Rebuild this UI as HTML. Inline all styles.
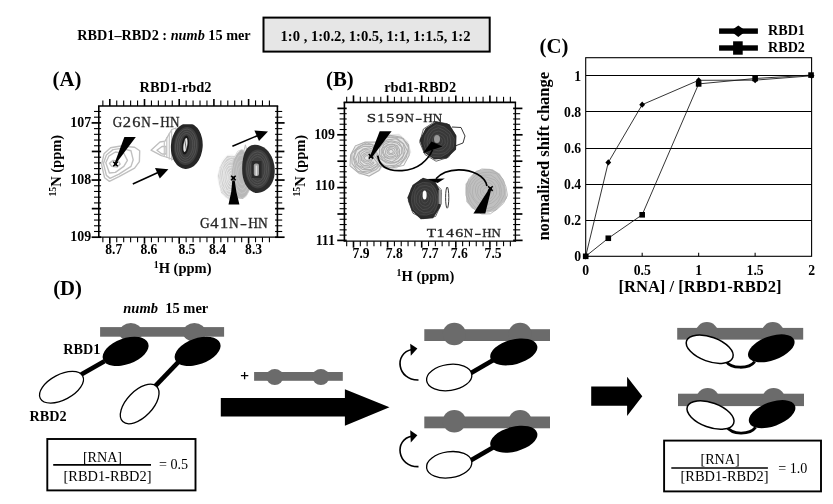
<!DOCTYPE html>
<html><head><meta charset="utf-8"><title>Figure</title>
<style>
html,body{margin:0;padding:0;background:#fff;}
body{width:833px;height:504px;overflow:hidden;font-family:"Liberation Serif",serif;}
svg{display:block;position:absolute;left:0;top:0;filter:grayscale(1);}
</style></head><body>
<svg width="833" height="504" viewBox="0 0 833 504">
<rect x="0" y="0" width="833" height="504" fill="#fff"/>
<!-- header -->
<text x="77.2" y="39.6" font-size="14.3" font-weight="bold" text-anchor="start" font-family="Liberation Serif, serif" fill="#000" textLength="173.5" lengthAdjust="spacingAndGlyphs">RBD1&#8211;RBD2 : <tspan font-style="italic">numb</tspan> 15 mer</text>
<rect x="263.5" y="17.6" width="226.2" height="34" fill="#e6e6e6" stroke="#000" stroke-width="2"/>
<text x="280.5" y="40.9" font-size="14.5" font-weight="bold" text-anchor="start" font-family="Liberation Serif, serif" fill="#000" textLength="190" lengthAdjust="spacingAndGlyphs">1:0 , 1:0.2, 1:0.5, 1:1, 1:1.5, 1:2</text>
<!-- panel A -->
<text x="52.6" y="85.5" font-size="20.75" font-weight="bold" text-anchor="start" font-family="Liberation Serif, serif" fill="#000" >(A)</text>
<text x="175.6" y="92.1" font-size="14.4" font-weight="bold" text-anchor="middle" font-family="Liberation Serif, serif" fill="#000" >RBD1-rbd2</text>
<rect x="98.8" y="106" width="178.6" height="131.2" fill="#fff" stroke="none"/>
<line x1="98" y1="106" x2="278.2" y2="106" stroke="#000" stroke-width="1.6" />
<line x1="98" y1="237.2" x2="278.2" y2="237.2" stroke="#000" stroke-width="1.3" />
<line x1="98.8" y1="106" x2="98.8" y2="237.2" stroke="#000" stroke-width="1.6" />
<line x1="277.4" y1="106" x2="277.4" y2="237.2" stroke="#000" stroke-width="1.6" />
<line x1="102.86" y1="106" x2="102.86" y2="100.4" stroke="#000" stroke-width="1.1" />
<line x1="102.86" y1="237.2" x2="102.86" y2="242.2" stroke="#000" stroke-width="1.1" />
<line x1="109.8" y1="106" x2="109.8" y2="99" stroke="#000" stroke-width="1.6" />
<line x1="109.8" y1="237.2" x2="109.8" y2="243.7" stroke="#000" stroke-width="1.6" />
<line x1="116.74" y1="106" x2="116.74" y2="100.4" stroke="#000" stroke-width="1.1" />
<line x1="116.74" y1="237.2" x2="116.74" y2="242.2" stroke="#000" stroke-width="1.1" />
<line x1="123.68" y1="106" x2="123.68" y2="100.4" stroke="#000" stroke-width="1.1" />
<line x1="123.68" y1="237.2" x2="123.68" y2="242.2" stroke="#000" stroke-width="1.1" />
<line x1="130.62" y1="106" x2="130.62" y2="100.4" stroke="#000" stroke-width="1.1" />
<line x1="130.62" y1="237.2" x2="130.62" y2="242.2" stroke="#000" stroke-width="1.1" />
<line x1="137.56" y1="106" x2="137.56" y2="100.4" stroke="#000" stroke-width="1.1" />
<line x1="137.56" y1="237.2" x2="137.56" y2="242.2" stroke="#000" stroke-width="1.1" />
<line x1="144.5" y1="106" x2="144.5" y2="99" stroke="#000" stroke-width="1.6" />
<line x1="144.5" y1="237.2" x2="144.5" y2="243.7" stroke="#000" stroke-width="1.6" />
<line x1="151.44" y1="106" x2="151.44" y2="100.4" stroke="#000" stroke-width="1.1" />
<line x1="151.44" y1="237.2" x2="151.44" y2="242.2" stroke="#000" stroke-width="1.1" />
<line x1="158.38" y1="106" x2="158.38" y2="100.4" stroke="#000" stroke-width="1.1" />
<line x1="158.38" y1="237.2" x2="158.38" y2="242.2" stroke="#000" stroke-width="1.1" />
<line x1="165.32" y1="106" x2="165.32" y2="100.4" stroke="#000" stroke-width="1.1" />
<line x1="165.32" y1="237.2" x2="165.32" y2="242.2" stroke="#000" stroke-width="1.1" />
<line x1="172.26" y1="106" x2="172.26" y2="100.4" stroke="#000" stroke-width="1.1" />
<line x1="172.26" y1="237.2" x2="172.26" y2="242.2" stroke="#000" stroke-width="1.1" />
<line x1="179.2" y1="106" x2="179.2" y2="99" stroke="#000" stroke-width="1.6" />
<line x1="179.2" y1="237.2" x2="179.2" y2="243.7" stroke="#000" stroke-width="1.6" />
<line x1="186.14" y1="106" x2="186.14" y2="100.4" stroke="#000" stroke-width="1.1" />
<line x1="186.14" y1="237.2" x2="186.14" y2="242.2" stroke="#000" stroke-width="1.1" />
<line x1="193.08" y1="106" x2="193.08" y2="100.4" stroke="#000" stroke-width="1.1" />
<line x1="193.08" y1="237.2" x2="193.08" y2="242.2" stroke="#000" stroke-width="1.1" />
<line x1="200.02" y1="106" x2="200.02" y2="100.4" stroke="#000" stroke-width="1.1" />
<line x1="200.02" y1="237.2" x2="200.02" y2="242.2" stroke="#000" stroke-width="1.1" />
<line x1="206.96" y1="106" x2="206.96" y2="100.4" stroke="#000" stroke-width="1.1" />
<line x1="206.96" y1="237.2" x2="206.96" y2="242.2" stroke="#000" stroke-width="1.1" />
<line x1="213.9" y1="106" x2="213.9" y2="99" stroke="#000" stroke-width="1.6" />
<line x1="213.9" y1="237.2" x2="213.9" y2="243.7" stroke="#000" stroke-width="1.6" />
<line x1="220.84" y1="106" x2="220.84" y2="100.4" stroke="#000" stroke-width="1.1" />
<line x1="220.84" y1="237.2" x2="220.84" y2="242.2" stroke="#000" stroke-width="1.1" />
<line x1="227.78" y1="106" x2="227.78" y2="100.4" stroke="#000" stroke-width="1.1" />
<line x1="227.78" y1="237.2" x2="227.78" y2="242.2" stroke="#000" stroke-width="1.1" />
<line x1="234.72" y1="106" x2="234.72" y2="100.4" stroke="#000" stroke-width="1.1" />
<line x1="234.72" y1="237.2" x2="234.72" y2="242.2" stroke="#000" stroke-width="1.1" />
<line x1="241.66" y1="106" x2="241.66" y2="100.4" stroke="#000" stroke-width="1.1" />
<line x1="241.66" y1="237.2" x2="241.66" y2="242.2" stroke="#000" stroke-width="1.1" />
<line x1="248.6" y1="106" x2="248.6" y2="99" stroke="#000" stroke-width="1.6" />
<line x1="248.6" y1="237.2" x2="248.6" y2="243.7" stroke="#000" stroke-width="1.6" />
<line x1="255.54" y1="106" x2="255.54" y2="100.4" stroke="#000" stroke-width="1.1" />
<line x1="255.54" y1="237.2" x2="255.54" y2="242.2" stroke="#000" stroke-width="1.1" />
<line x1="262.48" y1="106" x2="262.48" y2="100.4" stroke="#000" stroke-width="1.1" />
<line x1="262.48" y1="237.2" x2="262.48" y2="242.2" stroke="#000" stroke-width="1.1" />
<line x1="269.42" y1="106" x2="269.42" y2="100.4" stroke="#000" stroke-width="1.1" />
<line x1="269.42" y1="237.2" x2="269.42" y2="242.2" stroke="#000" stroke-width="1.1" />
<line x1="101.1" y1="111.47" x2="94" y2="111.47" stroke="#000" stroke-width="1.1" />
<line x1="275.1" y1="111.47" x2="282.2" y2="111.47" stroke="#000" stroke-width="1.1" />
<line x1="101.1" y1="117.19" x2="94" y2="117.19" stroke="#000" stroke-width="1.1" />
<line x1="275.1" y1="117.19" x2="282.2" y2="117.19" stroke="#000" stroke-width="1.1" />
<line x1="101.1" y1="122.9" x2="91.6" y2="122.9" stroke="#000" stroke-width="1.7" />
<line x1="275.1" y1="122.9" x2="284.6" y2="122.9" stroke="#000" stroke-width="1.7" />
<line x1="101.1" y1="128.62" x2="94" y2="128.62" stroke="#000" stroke-width="1.1" />
<line x1="275.1" y1="128.62" x2="282.2" y2="128.62" stroke="#000" stroke-width="1.1" />
<line x1="101.1" y1="134.33" x2="94" y2="134.33" stroke="#000" stroke-width="1.1" />
<line x1="275.1" y1="134.33" x2="282.2" y2="134.33" stroke="#000" stroke-width="1.1" />
<line x1="101.1" y1="140.05" x2="94" y2="140.05" stroke="#000" stroke-width="1.1" />
<line x1="275.1" y1="140.05" x2="282.2" y2="140.05" stroke="#000" stroke-width="1.1" />
<line x1="101.1" y1="145.76" x2="94" y2="145.76" stroke="#000" stroke-width="1.1" />
<line x1="275.1" y1="145.76" x2="282.2" y2="145.76" stroke="#000" stroke-width="1.1" />
<line x1="101.1" y1="151.47" x2="91.8" y2="151.47" stroke="#000" stroke-width="1.7" />
<line x1="275.1" y1="151.47" x2="284.4" y2="151.47" stroke="#000" stroke-width="1.7" />
<line x1="101.1" y1="157.19" x2="94" y2="157.19" stroke="#000" stroke-width="1.1" />
<line x1="275.1" y1="157.19" x2="282.2" y2="157.19" stroke="#000" stroke-width="1.1" />
<line x1="101.1" y1="162.91" x2="94" y2="162.91" stroke="#000" stroke-width="1.1" />
<line x1="275.1" y1="162.91" x2="282.2" y2="162.91" stroke="#000" stroke-width="1.1" />
<line x1="101.1" y1="168.62" x2="94" y2="168.62" stroke="#000" stroke-width="1.1" />
<line x1="275.1" y1="168.62" x2="282.2" y2="168.62" stroke="#000" stroke-width="1.1" />
<line x1="101.1" y1="174.34" x2="94" y2="174.34" stroke="#000" stroke-width="1.1" />
<line x1="275.1" y1="174.34" x2="282.2" y2="174.34" stroke="#000" stroke-width="1.1" />
<line x1="101.1" y1="180.05" x2="91.6" y2="180.05" stroke="#000" stroke-width="1.7" />
<line x1="275.1" y1="180.05" x2="284.6" y2="180.05" stroke="#000" stroke-width="1.7" />
<line x1="101.1" y1="185.76" x2="94" y2="185.76" stroke="#000" stroke-width="1.1" />
<line x1="275.1" y1="185.76" x2="282.2" y2="185.76" stroke="#000" stroke-width="1.1" />
<line x1="101.1" y1="191.48" x2="94" y2="191.48" stroke="#000" stroke-width="1.1" />
<line x1="275.1" y1="191.48" x2="282.2" y2="191.48" stroke="#000" stroke-width="1.1" />
<line x1="101.1" y1="197.19" x2="94" y2="197.19" stroke="#000" stroke-width="1.1" />
<line x1="275.1" y1="197.19" x2="282.2" y2="197.19" stroke="#000" stroke-width="1.1" />
<line x1="101.1" y1="202.91" x2="94" y2="202.91" stroke="#000" stroke-width="1.1" />
<line x1="275.1" y1="202.91" x2="282.2" y2="202.91" stroke="#000" stroke-width="1.1" />
<line x1="101.1" y1="208.62" x2="91.8" y2="208.62" stroke="#000" stroke-width="1.7" />
<line x1="275.1" y1="208.62" x2="284.4" y2="208.62" stroke="#000" stroke-width="1.7" />
<line x1="101.1" y1="214.34" x2="94" y2="214.34" stroke="#000" stroke-width="1.1" />
<line x1="275.1" y1="214.34" x2="282.2" y2="214.34" stroke="#000" stroke-width="1.1" />
<line x1="101.1" y1="220.06" x2="94" y2="220.06" stroke="#000" stroke-width="1.1" />
<line x1="275.1" y1="220.06" x2="282.2" y2="220.06" stroke="#000" stroke-width="1.1" />
<line x1="101.1" y1="225.77" x2="94" y2="225.77" stroke="#000" stroke-width="1.1" />
<line x1="275.1" y1="225.77" x2="282.2" y2="225.77" stroke="#000" stroke-width="1.1" />
<line x1="101.1" y1="231.49" x2="94" y2="231.49" stroke="#000" stroke-width="1.1" />
<line x1="275.1" y1="231.49" x2="282.2" y2="231.49" stroke="#000" stroke-width="1.1" />
<line x1="101.1" y1="237.2" x2="91.6" y2="237.2" stroke="#000" stroke-width="1.7" />
<line x1="275.1" y1="237.2" x2="284.6" y2="237.2" stroke="#000" stroke-width="1.7" />
<text x="113.8" y="253.8" font-size="13.6" font-weight="bold" text-anchor="middle" font-family="Liberation Serif, serif" fill="#000" >8.7</text>
<text x="148.9" y="253.8" font-size="13.6" font-weight="bold" text-anchor="middle" font-family="Liberation Serif, serif" fill="#000" >8.6</text>
<text x="186.9" y="253.8" font-size="13.6" font-weight="bold" text-anchor="middle" font-family="Liberation Serif, serif" fill="#000" >8.5</text>
<text x="217.5" y="253.8" font-size="13.6" font-weight="bold" text-anchor="middle" font-family="Liberation Serif, serif" fill="#000" >8.4</text>
<text x="253.6" y="253.8" font-size="13.6" font-weight="bold" text-anchor="middle" font-family="Liberation Serif, serif" fill="#000" >8.3</text>
<text x="91.2" y="126.7" font-size="13.9" font-weight="bold" text-anchor="end" font-family="Liberation Serif, serif" fill="#000" >107</text>
<text x="91.2" y="183.6" font-size="13.9" font-weight="bold" text-anchor="end" font-family="Liberation Serif, serif" fill="#000" >108</text>
<text x="91.2" y="240.7" font-size="13.9" font-weight="bold" text-anchor="end" font-family="Liberation Serif, serif" fill="#000" >109</text>
<text transform="translate(60.7,196.6) rotate(-90)" font-size="14.5" font-weight="bold" font-family="Liberation Serif, serif"><tspan font-size="9.8" dy="-4.8">15</tspan><tspan dy="4.8">N (ppm)</tspan></text>
<text x="153.8" y="273" font-size="14.5" font-weight="bold" font-family="Liberation Serif, serif"><tspan font-size="9.8" dy="-4.8">1</tspan><tspan dy="4.8">H (ppm)</tspan></text>
<g id="contA">
<path d="M101.6 164.6 L104 153.8 L110.6 147.8 L120.8 146 L134.6 147.2 L139.7 150.8 L139.4 161.6 L134.6 168.2 L119 176.6 L109.4 181.4 L104.6 177.8 Z" fill="none" stroke="#c0c0c0" stroke-width="1.4" stroke-linejoin="round"/>
<path d="M103.4 163.4 L106.4 155 L113 149.6 L121.4 148.4 L131 150.8 L133.2 159.8 L131 166.4 L119 174.2 L110 178.4 L106.4 175.4 Z" fill="none" stroke="#c0c0c0" stroke-width="1.4" stroke-linejoin="round"/>
<path d="M105.8 162.8 L108.8 156.2 L115.4 152 L123.8 153.2 L127.4 160.4 L123.8 166.4 L115.4 172.4 L109.4 173 Z" fill="none" stroke="#c0c0c0" stroke-width="1.4" stroke-linejoin="round"/>
<path d="M109.4 163.4 L113 160.4 L118.4 161 L120.2 164 L117.2 167 L111.8 166.4 Z" fill="none" stroke="#c0c0c0" stroke-width="1.4" stroke-linejoin="round"/>
<path d="M151 150.2 L160 142 L165 141.2 L171.8 129.5 L176 128 L176 160 L171.8 159 L166 157 L161.4 155.6 Z" fill="none" stroke="#bebebe" stroke-width="1.3" stroke-linejoin="round"/>
<path d="M156.9 150.2 L162 146.5 L166 146.5 L166 154 L162 154 Z" fill="none" stroke="#bebebe" stroke-width="1.3" stroke-linejoin="round"/>
<path d="M164.3 141.5 L164.3 156.5" fill="none" stroke="#c4c4c4" stroke-width="1.2" stroke-linejoin="round"/>
<path d="M166.8 137 L166.8 158" fill="none" stroke="#c4c4c4" stroke-width="1.2" stroke-linejoin="round"/>
<path d="M169.3 133 L169.3 159.5" fill="none" stroke="#c4c4c4" stroke-width="1.2" stroke-linejoin="round"/>
<path d="M171.6 130 L171.6 160.5" fill="none" stroke="#c4c4c4" stroke-width="1.2" stroke-linejoin="round"/>
<clipPath id="cA1"><rect x="160" y="124.2" width="60" height="60"/></clipPath>
<g clip-path="url(#cA1)">
<ellipse cx="186.8" cy="146" rx="15.9" ry="23" fill="#262626" transform="rotate(4 186.8 146)"/>
<ellipse cx="186.3" cy="146" rx="12.2" ry="19" fill="#3d3d3d" transform="rotate(4 186.3 146)"/>
<ellipse cx="186" cy="145.8" rx="10.5" ry="16.8" fill="none" stroke="#595959" stroke-width="0.7" transform="rotate(4 186 145.8)"/>
<ellipse cx="186" cy="145.8" rx="8.6" ry="14.6" fill="none" stroke="#595959" stroke-width="0.7" transform="rotate(4 186 145.8)"/>
<ellipse cx="186" cy="145.8" rx="6.8" ry="12.4" fill="none" stroke="#595959" stroke-width="0.7" transform="rotate(4 186 145.8)"/>
</g>
<ellipse cx="185.4" cy="145" rx="3.6" ry="9.6" fill="#1a1a1a" transform="rotate(6 185.4 145)"/>
<ellipse cx="185.4" cy="145" rx="1.9" ry="7" fill="#e8e8e8" transform="rotate(8 185.4 145)"/>
<path d="M184.6 139 L186.4 150" stroke="#333" stroke-width="0.7"/>
<polygon points="225.68,197.22 221.05,192.86 219.26,184.42 217.88,175.88 219.53,167.4 223.05,161.06 227.19,155.67 232.4,155.83 237.52,157.08 241.24,163.2 243.77,170.57 244.94,179.1 244.15,188.17 240.02,194.08 235.67,198.59 230.53,200.79" fill="#cfcfcf" stroke="none"/>
<polygon points="244.48,169.94 244.91,178.89 244.42,188.16 240.02,193.79 236.12,200.18 230.69,199.88 225.79,197.29 221.78,192.04 218.94,184.82 217.41,176.04 219.74,167.8 222.4,160.1 227,155.39 232.32,154.89 237.5,156.71 241.15,163.06" fill="none" stroke="#f2f2f2" stroke-width="0.7"/>
<polygon points="242.32,184.69 240.36,191.94 236.27,196.01 231.72,197.41 227.05,196.66 223.19,192.09 220.72,185.45 219.03,177.89 220.02,169.87 223.09,163.8 226.64,158.66 231.28,157.07 236.1,157.69 240.09,162.43 242.26,169.57 244.24,177.1" fill="none" stroke="#f2f2f2" stroke-width="0.7"/>
<polygon points="239.16,189.37 236.07,194.07 231.94,194.49 227.92,194.15 224.81,189.86 221.8,185.15 220.69,178.3 221.55,171.38 223.41,164.98 227.16,161.78 231.03,159.36 235.13,160.64 238.65,164.29 240.96,170.04 242.41,176.69 241.89,183.89" fill="none" stroke="#f2f2f2" stroke-width="0.7"/>
<polygon points="222.51,180.02 223.25,174.26 224.06,168.49 226.69,164.44 229.95,161.71 233.6,162.21 236.57,165.53 238.98,169.62 240.5,174.98 239.71,180.73 238.73,186.26 236.04,189.82 232.89,191.73 229.58,191.44 226.13,190.19 224.25,185.13" fill="none" stroke="#f2f2f2" stroke-width="0.7"/>
<polygon points="231.61,189.82 228.66,189.63 226.62,186.02 224.77,182.43 224.07,177.7 224.32,172.69 225.99,168.48 228.44,165.54 231.39,165.35 234.19,166.01 236.55,168.69 238.59,172.31 239.29,177.29 238.08,181.9 236.6,185.85 234.34,188.59" fill="none" stroke="#f2f2f2" stroke-width="0.7"/>
<polygon points="232.11,187.28 229.83,187.05 227.94,184.95 226.68,181.93 225.76,178.53 226,174.75 226.93,171.25 228.56,168.37 230.87,167.47 233.15,168.03 235.22,169.73 236.73,172.69 236.99,176.52 237.36,180.43 236.18,183.91 234.41,186.55" fill="none" stroke="#f2f2f2" stroke-width="0.7"/>
<polygon points="232.74,170.68 234.19,172 235.1,174.28 235.82,176.81 235.37,179.51 234.62,181.87 233.43,183.66 231.89,184.4 230.27,184.28 228.92,182.77 227.95,180.68 227.42,178.15 227.61,175.48 228.26,172.97 229.61,171.48 231.08,169.98" fill="none" stroke="#f2f2f2" stroke-width="0.7"/>
<polygon points="229.53,174.61 230.32,173.51 231.31,173 232.35,173.21 233.2,174.18 234.04,175.36 234.37,177.16 234.07,178.95 233.55,180.51 232.66,181.41 231.68,181.87 230.66,181.78 229.77,180.88 228.97,179.64 228.9,177.81 229.07,176.13" fill="none" stroke="#f2f2f2" stroke-width="0.7"/>
<polygon points="252.02,166.98 252.05,177.75 250.78,188.12 247.11,194.61 242.91,198.97 238.11,198.46 234.12,191.96 231.82,182.14 231.84,171.21 233.37,161.11 236.81,154.1 241.07,149.45 245.73,151.52 249.82,157.17" fill="#b8b8b8" stroke="none"/>
<polygon points="237.1,195.43 233.21,189.21 231.18,178.93 231.55,167.62 233.9,157.8 237.81,151.23 242.54,149.47 246.9,153.56 250.54,160.19 252.2,170.32 251.65,180.85 249.51,189.99 245.98,196.61 241.48,198.4" fill="none" stroke="#cacaca" stroke-width="0.7"/>
<polygon points="238.88,155.38 242.71,155.07 246.46,156.92 249.32,163.12 250.68,171.67 249.9,180.4 247.93,187.62 244.91,192.34 241.3,193.46 237.84,190.89 234.93,185.5 233.36,177.32 233.74,168.33 235.92,161.04" fill="none" stroke="#cacaca" stroke-width="0.7"/>
<polygon points="238.28,162.12 241.02,160.57 243.8,160.18 246.39,163.16 247.99,168.8 248.44,175.43 247.49,181.67 245.51,186.16 243.05,189.41 240.25,188.38 237.65,185.72 235.9,180.3 235.77,173.61 236.55,167.39" fill="none" stroke="#cacaca" stroke-width="0.7"/>
<polygon points="246.05,171.19 246.04,175.56 245.43,179.52 244.16,182.52 242.49,184.62 240.57,184.02 239.13,181.2 237.91,177.84 237.63,173.36 238.39,169.21 239.8,166.32 241.52,164.72 243.34,165.58 244.83,167.89" fill="none" stroke="#cacaca" stroke-width="0.7"/>
<polygon points="243.6,152 245.4,144.8 247.4,152" fill="#eee" stroke="#bdbdbd" stroke-width="0.9"/>
<path d="M254.6 144.7 C263 144.5 270 151 273 160 C275.6 168 275.2 176 272.5 182 C269 189.5 262 193 257 193 C249 192.5 243.5 184 242.4 174 C241.4 162 243.6 151 248.5 147 C250.5 145.4 252.5 144.8 254.6 144.7 Z" fill="#2b2b2b"/>
<ellipse cx="258" cy="169" rx="12.6" ry="19.4" fill="#3f3f3f"/>
<ellipse cx="257.6" cy="169" rx="11" ry="17.2" fill="none" stroke="#5c5c5c" stroke-width="0.7"/>
<ellipse cx="257.6" cy="169" rx="9.2" ry="14.8" fill="none" stroke="#5c5c5c" stroke-width="0.7"/>
<ellipse cx="257.6" cy="169" rx="7.4" ry="12.4" fill="none" stroke="#5c5c5c" stroke-width="0.7"/>
<rect x="251.6" y="161" width="10" height="17" fill="#2a2a2a"/>
<rect x="253.8" y="163.4" width="5.2" height="12.6" rx="2" fill="#a0a0a0"/>
<rect x="255.6" y="165.5" width="1.6" height="10" fill="#e0e0e0"/>
</g>
<polygon points="124.4,137 135.8,137 116,163.5 114.8,162.5" fill="#000"/>
<path d="M113.2 161.7L117.8 166.3M117.8 161.7L113.2 166.3" stroke="#000" stroke-width="1.5" fill="none"/>
<rect x="114" y="162.5" width="3" height="3" fill="#000"/>
<polygon points="228.5,204.4 239.4,204.4 236.4,192 234.7,180.5 232.3,180.5 231.2,192" fill="#000"/>
<path d="M231.1 175.7L235.7 180.3M235.7 175.7L231.1 180.3" stroke="#000" stroke-width="1.5" fill="none"/>
<rect x="231.9" y="176.5" width="3" height="3" fill="#000"/>
<line x1="132.8" y1="184" x2="158" y2="172.6" stroke="#000" stroke-width="1.6" />
<polygon points="155,168 168.4,169.2 159.8,178.4" fill="#000"/>
<line x1="232.4" y1="146.3" x2="258" y2="135.4" stroke="#000" stroke-width="1.6" />
<polygon points="254.4,130.6 268,131.6 259,141" fill="#000"/>
<text transform="translate(117.37,126.8) scale(0.96,1)" font-size="13.7" text-anchor="middle" font-family="Liberation Serif, serif" fill="#262626" stroke="#262626" stroke-width="0.3">G</text>
<text transform="translate(126.91,126.8) scale(1.2,1)" font-size="13.7" text-anchor="middle" font-family="Liberation Serif, serif" fill="#262626" stroke="#262626" stroke-width="0.3">2</text>
<text transform="translate(136.46,126.8) scale(1.2,1)" font-size="13.7" text-anchor="middle" font-family="Liberation Serif, serif" fill="#262626" stroke="#262626" stroke-width="0.3">6</text>
<text transform="translate(146,126.8) scale(0.96,1)" font-size="13.7" text-anchor="middle" font-family="Liberation Serif, serif" fill="#262626" stroke="#262626" stroke-width="0.3">N</text>
<text transform="translate(155.54,126.8) scale(1.51,1)" font-size="13.7" text-anchor="middle" font-family="Liberation Serif, serif" fill="#262626" stroke="#262626" stroke-width="0.3">-</text>
<text transform="translate(165.09,126.8) scale(0.96,1)" font-size="13.7" text-anchor="middle" font-family="Liberation Serif, serif" fill="#262626" stroke="#262626" stroke-width="0.3">H</text>
<text transform="translate(174.63,126.8) scale(0.96,1)" font-size="13.7" text-anchor="middle" font-family="Liberation Serif, serif" fill="#262626" stroke="#262626" stroke-width="0.3">N</text>
<text transform="translate(204.83,227.5) scale(0.98,1)" font-size="13.7" text-anchor="middle" font-family="Liberation Serif, serif" fill="#262626" stroke="#262626" stroke-width="0.3">G</text>
<text transform="translate(214.49,227.5) scale(1.21,1)" font-size="13.7" text-anchor="middle" font-family="Liberation Serif, serif" fill="#262626" stroke="#262626" stroke-width="0.3">4</text>
<text transform="translate(224.14,227.5) scale(1.21,1)" font-size="13.7" text-anchor="middle" font-family="Liberation Serif, serif" fill="#262626" stroke="#262626" stroke-width="0.3">1</text>
<text transform="translate(233.8,227.5) scale(0.98,1)" font-size="13.7" text-anchor="middle" font-family="Liberation Serif, serif" fill="#262626" stroke="#262626" stroke-width="0.3">N</text>
<text transform="translate(243.46,227.5) scale(1.52,1)" font-size="13.7" text-anchor="middle" font-family="Liberation Serif, serif" fill="#262626" stroke="#262626" stroke-width="0.3">-</text>
<text transform="translate(253.11,227.5) scale(0.98,1)" font-size="13.7" text-anchor="middle" font-family="Liberation Serif, serif" fill="#262626" stroke="#262626" stroke-width="0.3">H</text>
<text transform="translate(262.77,227.5) scale(0.98,1)" font-size="13.7" text-anchor="middle" font-family="Liberation Serif, serif" fill="#262626" stroke="#262626" stroke-width="0.3">N</text>
<!-- panel B -->
<text x="326" y="85.5" font-size="20.75" font-weight="bold" text-anchor="start" font-family="Liberation Serif, serif" fill="#000" >(B)</text>
<text x="420.2" y="91.8" font-size="14.4" font-weight="bold" text-anchor="middle" font-family="Liberation Serif, serif" fill="#000" >rbd1-RBD2</text>
<rect x="344.4" y="102.4" width="171" height="138.8" fill="#fff" stroke="none"/>
<line x1="343.6" y1="102.4" x2="516.1" y2="102.4" stroke="#000" stroke-width="1.6" />
<line x1="343.6" y1="241.2" x2="516.1" y2="241.2" stroke="#000" stroke-width="1.2" />
<line x1="344.4" y1="102.4" x2="344.4" y2="241.2" stroke="#000" stroke-width="1.6" />
<line x1="515.4" y1="102.4" x2="515.4" y2="241.2" stroke="#000" stroke-width="1.4" />
<line x1="346.68" y1="102.4" x2="346.68" y2="96.8" stroke="#000" stroke-width="1.1" />
<line x1="346.68" y1="241.2" x2="346.68" y2="246.2" stroke="#000" stroke-width="1.1" />
<line x1="353.5" y1="102.4" x2="353.5" y2="95.4" stroke="#000" stroke-width="1.6" />
<line x1="353.5" y1="241.2" x2="353.5" y2="247.7" stroke="#000" stroke-width="1.6" />
<line x1="360.32" y1="102.4" x2="360.32" y2="96.8" stroke="#000" stroke-width="1.1" />
<line x1="360.32" y1="241.2" x2="360.32" y2="246.2" stroke="#000" stroke-width="1.1" />
<line x1="367.14" y1="102.4" x2="367.14" y2="96.8" stroke="#000" stroke-width="1.1" />
<line x1="367.14" y1="241.2" x2="367.14" y2="246.2" stroke="#000" stroke-width="1.1" />
<line x1="373.96" y1="102.4" x2="373.96" y2="96.8" stroke="#000" stroke-width="1.1" />
<line x1="373.96" y1="241.2" x2="373.96" y2="246.2" stroke="#000" stroke-width="1.1" />
<line x1="380.78" y1="102.4" x2="380.78" y2="96.8" stroke="#000" stroke-width="1.1" />
<line x1="380.78" y1="241.2" x2="380.78" y2="246.2" stroke="#000" stroke-width="1.1" />
<line x1="387.6" y1="102.4" x2="387.6" y2="95.4" stroke="#000" stroke-width="1.6" />
<line x1="387.6" y1="241.2" x2="387.6" y2="247.7" stroke="#000" stroke-width="1.6" />
<line x1="394.42" y1="102.4" x2="394.42" y2="96.8" stroke="#000" stroke-width="1.1" />
<line x1="394.42" y1="241.2" x2="394.42" y2="246.2" stroke="#000" stroke-width="1.1" />
<line x1="401.24" y1="102.4" x2="401.24" y2="96.8" stroke="#000" stroke-width="1.1" />
<line x1="401.24" y1="241.2" x2="401.24" y2="246.2" stroke="#000" stroke-width="1.1" />
<line x1="408.06" y1="102.4" x2="408.06" y2="96.8" stroke="#000" stroke-width="1.1" />
<line x1="408.06" y1="241.2" x2="408.06" y2="246.2" stroke="#000" stroke-width="1.1" />
<line x1="414.88" y1="102.4" x2="414.88" y2="96.8" stroke="#000" stroke-width="1.1" />
<line x1="414.88" y1="241.2" x2="414.88" y2="246.2" stroke="#000" stroke-width="1.1" />
<line x1="421.7" y1="102.4" x2="421.7" y2="95.4" stroke="#000" stroke-width="1.6" />
<line x1="421.7" y1="241.2" x2="421.7" y2="247.7" stroke="#000" stroke-width="1.6" />
<line x1="428.52" y1="102.4" x2="428.52" y2="96.8" stroke="#000" stroke-width="1.1" />
<line x1="428.52" y1="241.2" x2="428.52" y2="246.2" stroke="#000" stroke-width="1.1" />
<line x1="435.34" y1="102.4" x2="435.34" y2="96.8" stroke="#000" stroke-width="1.1" />
<line x1="435.34" y1="241.2" x2="435.34" y2="246.2" stroke="#000" stroke-width="1.1" />
<line x1="442.16" y1="102.4" x2="442.16" y2="96.8" stroke="#000" stroke-width="1.1" />
<line x1="442.16" y1="241.2" x2="442.16" y2="246.2" stroke="#000" stroke-width="1.1" />
<line x1="448.98" y1="102.4" x2="448.98" y2="96.8" stroke="#000" stroke-width="1.1" />
<line x1="448.98" y1="241.2" x2="448.98" y2="246.2" stroke="#000" stroke-width="1.1" />
<line x1="455.8" y1="102.4" x2="455.8" y2="95.4" stroke="#000" stroke-width="1.6" />
<line x1="455.8" y1="241.2" x2="455.8" y2="247.7" stroke="#000" stroke-width="1.6" />
<line x1="462.62" y1="102.4" x2="462.62" y2="96.8" stroke="#000" stroke-width="1.1" />
<line x1="462.62" y1="241.2" x2="462.62" y2="246.2" stroke="#000" stroke-width="1.1" />
<line x1="469.44" y1="102.4" x2="469.44" y2="96.8" stroke="#000" stroke-width="1.1" />
<line x1="469.44" y1="241.2" x2="469.44" y2="246.2" stroke="#000" stroke-width="1.1" />
<line x1="476.26" y1="102.4" x2="476.26" y2="96.8" stroke="#000" stroke-width="1.1" />
<line x1="476.26" y1="241.2" x2="476.26" y2="246.2" stroke="#000" stroke-width="1.1" />
<line x1="483.08" y1="102.4" x2="483.08" y2="96.8" stroke="#000" stroke-width="1.1" />
<line x1="483.08" y1="241.2" x2="483.08" y2="246.2" stroke="#000" stroke-width="1.1" />
<line x1="489.9" y1="102.4" x2="489.9" y2="95.4" stroke="#000" stroke-width="1.6" />
<line x1="489.9" y1="241.2" x2="489.9" y2="247.7" stroke="#000" stroke-width="1.6" />
<line x1="496.72" y1="102.4" x2="496.72" y2="96.8" stroke="#000" stroke-width="1.1" />
<line x1="496.72" y1="241.2" x2="496.72" y2="246.2" stroke="#000" stroke-width="1.1" />
<line x1="503.54" y1="102.4" x2="503.54" y2="96.8" stroke="#000" stroke-width="1.1" />
<line x1="503.54" y1="241.2" x2="503.54" y2="246.2" stroke="#000" stroke-width="1.1" />
<line x1="510.36" y1="102.4" x2="510.36" y2="96.8" stroke="#000" stroke-width="1.1" />
<line x1="510.36" y1="241.2" x2="510.36" y2="246.2" stroke="#000" stroke-width="1.1" />
<line x1="346.7" y1="108.4" x2="337.4" y2="108.4" stroke="#000" stroke-width="1.7" />
<line x1="513.1" y1="108.4" x2="522.4" y2="108.4" stroke="#000" stroke-width="1.7" />
<line x1="346.7" y1="113.68" x2="339.6" y2="113.68" stroke="#000" stroke-width="1.1" />
<line x1="513.1" y1="113.68" x2="520.2" y2="113.68" stroke="#000" stroke-width="1.1" />
<line x1="346.7" y1="118.96" x2="339.6" y2="118.96" stroke="#000" stroke-width="1.1" />
<line x1="513.1" y1="118.96" x2="520.2" y2="118.96" stroke="#000" stroke-width="1.1" />
<line x1="346.7" y1="124.24" x2="339.6" y2="124.24" stroke="#000" stroke-width="1.1" />
<line x1="513.1" y1="124.24" x2="520.2" y2="124.24" stroke="#000" stroke-width="1.1" />
<line x1="346.7" y1="129.52" x2="339.6" y2="129.52" stroke="#000" stroke-width="1.1" />
<line x1="513.1" y1="129.52" x2="520.2" y2="129.52" stroke="#000" stroke-width="1.1" />
<line x1="346.7" y1="134.8" x2="337.2" y2="134.8" stroke="#000" stroke-width="1.7" />
<line x1="513.1" y1="134.8" x2="522.6" y2="134.8" stroke="#000" stroke-width="1.7" />
<line x1="346.7" y1="140.08" x2="339.6" y2="140.08" stroke="#000" stroke-width="1.1" />
<line x1="513.1" y1="140.08" x2="520.2" y2="140.08" stroke="#000" stroke-width="1.1" />
<line x1="346.7" y1="145.36" x2="339.6" y2="145.36" stroke="#000" stroke-width="1.1" />
<line x1="513.1" y1="145.36" x2="520.2" y2="145.36" stroke="#000" stroke-width="1.1" />
<line x1="346.7" y1="150.64" x2="339.6" y2="150.64" stroke="#000" stroke-width="1.1" />
<line x1="513.1" y1="150.64" x2="520.2" y2="150.64" stroke="#000" stroke-width="1.1" />
<line x1="346.7" y1="155.92" x2="339.6" y2="155.92" stroke="#000" stroke-width="1.1" />
<line x1="513.1" y1="155.92" x2="520.2" y2="155.92" stroke="#000" stroke-width="1.1" />
<line x1="346.7" y1="161.2" x2="337.4" y2="161.2" stroke="#000" stroke-width="1.7" />
<line x1="513.1" y1="161.2" x2="522.4" y2="161.2" stroke="#000" stroke-width="1.7" />
<line x1="346.7" y1="166.48" x2="339.6" y2="166.48" stroke="#000" stroke-width="1.1" />
<line x1="513.1" y1="166.48" x2="520.2" y2="166.48" stroke="#000" stroke-width="1.1" />
<line x1="346.7" y1="171.76" x2="339.6" y2="171.76" stroke="#000" stroke-width="1.1" />
<line x1="513.1" y1="171.76" x2="520.2" y2="171.76" stroke="#000" stroke-width="1.1" />
<line x1="346.7" y1="177.04" x2="339.6" y2="177.04" stroke="#000" stroke-width="1.1" />
<line x1="513.1" y1="177.04" x2="520.2" y2="177.04" stroke="#000" stroke-width="1.1" />
<line x1="346.7" y1="182.32" x2="339.6" y2="182.32" stroke="#000" stroke-width="1.1" />
<line x1="513.1" y1="182.32" x2="520.2" y2="182.32" stroke="#000" stroke-width="1.1" />
<line x1="346.7" y1="187.6" x2="337.2" y2="187.6" stroke="#000" stroke-width="1.7" />
<line x1="513.1" y1="187.6" x2="522.6" y2="187.6" stroke="#000" stroke-width="1.7" />
<line x1="346.7" y1="192.88" x2="339.6" y2="192.88" stroke="#000" stroke-width="1.1" />
<line x1="513.1" y1="192.88" x2="520.2" y2="192.88" stroke="#000" stroke-width="1.1" />
<line x1="346.7" y1="198.16" x2="339.6" y2="198.16" stroke="#000" stroke-width="1.1" />
<line x1="513.1" y1="198.16" x2="520.2" y2="198.16" stroke="#000" stroke-width="1.1" />
<line x1="346.7" y1="203.44" x2="339.6" y2="203.44" stroke="#000" stroke-width="1.1" />
<line x1="513.1" y1="203.44" x2="520.2" y2="203.44" stroke="#000" stroke-width="1.1" />
<line x1="346.7" y1="208.72" x2="339.6" y2="208.72" stroke="#000" stroke-width="1.1" />
<line x1="513.1" y1="208.72" x2="520.2" y2="208.72" stroke="#000" stroke-width="1.1" />
<line x1="346.7" y1="214" x2="337.4" y2="214" stroke="#000" stroke-width="1.7" />
<line x1="513.1" y1="214" x2="522.4" y2="214" stroke="#000" stroke-width="1.7" />
<line x1="346.7" y1="219.28" x2="339.6" y2="219.28" stroke="#000" stroke-width="1.1" />
<line x1="513.1" y1="219.28" x2="520.2" y2="219.28" stroke="#000" stroke-width="1.1" />
<line x1="346.7" y1="224.56" x2="339.6" y2="224.56" stroke="#000" stroke-width="1.1" />
<line x1="513.1" y1="224.56" x2="520.2" y2="224.56" stroke="#000" stroke-width="1.1" />
<line x1="346.7" y1="229.84" x2="339.6" y2="229.84" stroke="#000" stroke-width="1.1" />
<line x1="513.1" y1="229.84" x2="520.2" y2="229.84" stroke="#000" stroke-width="1.1" />
<line x1="346.7" y1="235.12" x2="339.6" y2="235.12" stroke="#000" stroke-width="1.1" />
<line x1="513.1" y1="235.12" x2="520.2" y2="235.12" stroke="#000" stroke-width="1.1" />
<line x1="346.7" y1="240.4" x2="337.2" y2="240.4" stroke="#000" stroke-width="1.7" />
<line x1="513.1" y1="240.4" x2="522.6" y2="240.4" stroke="#000" stroke-width="1.7" />
<text x="361.1" y="257.8" font-size="13.6" font-weight="bold" text-anchor="middle" font-family="Liberation Serif, serif" fill="#000" >7.9</text>
<text x="394.2" y="257.8" font-size="13.6" font-weight="bold" text-anchor="middle" font-family="Liberation Serif, serif" fill="#000" >7.8</text>
<text x="430.1" y="257.8" font-size="13.6" font-weight="bold" text-anchor="middle" font-family="Liberation Serif, serif" fill="#000" >7.7</text>
<text x="459.2" y="257.8" font-size="13.6" font-weight="bold" text-anchor="middle" font-family="Liberation Serif, serif" fill="#000" >7.6</text>
<text x="493.1" y="257.8" font-size="13.6" font-weight="bold" text-anchor="middle" font-family="Liberation Serif, serif" fill="#000" >7.5</text>
<text x="335" y="139.4" font-size="13.9" font-weight="bold" text-anchor="end" font-family="Liberation Serif, serif" fill="#000" >109</text>
<text x="335" y="190.2" font-size="13.9" font-weight="bold" text-anchor="end" font-family="Liberation Serif, serif" fill="#000" >110</text>
<text x="335" y="244.8" font-size="13.9" font-weight="bold" text-anchor="end" font-family="Liberation Serif, serif" fill="#000" >111</text>
<text transform="translate(305,196.6) rotate(-90)" font-size="14.5" font-weight="bold" font-family="Liberation Serif, serif"><tspan font-size="9.8" dy="-4.8">15</tspan><tspan dy="4.8">N (ppm)</tspan></text>
<text x="396.6" y="280.7" font-size="14.5" font-weight="bold" font-family="Liberation Serif, serif"><tspan font-size="9.8" dy="-4.8">1</tspan><tspan dy="4.8">H (ppm)</tspan></text>
<g id="contB">
<polygon points="382.47,148.94 384.43,159.43 380.93,169.96 370.62,174.42 359.5,174.71 351.09,167.32 350.49,156.64 354.55,147.32 363.46,141.97 373.75,142.96" fill="#e8e8e8" stroke="none"/>
<polygon points="350.6,155.03 355.38,145.8 365.16,142.14 376.19,141.97 382.49,150.83 383.97,161.08 378.94,170.54 369.1,176.06 358.52,172.8 350.01,165.87" fill="none" stroke="#b0b0b0" stroke-width="1.05"/>
<polygon points="351.98,163.32 351.84,153.73 358.27,146.82 366.74,142.72 375.58,145.87 380.69,153.15 382.86,162.46 375.98,169.5 367.27,173.37 357.59,171.3" fill="none" stroke="#b0b0b0" stroke-width="1.05"/>
<polygon points="353.27,158.07 355.63,149.9 362.77,144.74 371.77,144.19 377.79,150.35 381.29,157.92 377.86,165.73 371.04,170.64 362.24,171.79 355.43,166.2" fill="none" stroke="#b0b0b0" stroke-width="1.05"/>
<polygon points="353.97,157.65 356.56,150.03 363.72,146.38 371.49,146.26 377.45,151.08 379.51,158.34 377.08,165.7 370.28,169.63 362.57,169.58 356.6,164.89" fill="none" stroke="#b0b0b0" stroke-width="1.05"/>
<polygon points="375.5,150.69 378.5,156.87 376.96,163.74 371.02,167.32 364.48,168.48 358.16,165.6 355.57,159.13 358.29,152.98 363.08,148.9 369.47,147.73" fill="none" stroke="#b0b0b0" stroke-width="1.05"/>
<polygon points="375.75,158.83 373.29,163.54 368.87,167.04 362.98,166.65 358.44,162.87 358.39,157.18 359.98,151.81 365.14,148.97 370.61,150.24 375.54,153.15" fill="none" stroke="#b0b0b0" stroke-width="1.05"/>
<polygon points="373.15,154.23 375.11,158.5 372.64,162.63 368.74,165.14 363.85,165.44 360.18,162.18 359.9,157.56 361.33,153.34 365.25,150.82 369.83,151.31" fill="none" stroke="#b0b0b0" stroke-width="1.05"/>
<polygon points="370.61,162.29 367.33,163.98 364.04,162.51 361.43,160.2 361.35,156.63 363.58,153.94 366.7,152.4 370.28,152.99 372.53,155.82 372.29,159.29" fill="none" stroke="#b0b0b0" stroke-width="1.05"/>
<polygon points="371.05,156.08 371.52,158.77 369.72,160.8 367.5,161.97 365.09,161.4 362.96,159.92 362.98,157.31 364.27,155.19 366.49,153.93 369.21,154.06" fill="none" stroke="#b0b0b0" stroke-width="1.05"/>
<polygon points="367.23,155.55 368.62,156.16 369.73,157.34 369.43,158.98 368.38,160.25 366.78,160.38 365.4,159.81 364.37,158.63 364.63,157.05 365.76,155.98" fill="none" stroke="#b0b0b0" stroke-width="1.05"/>
<polygon points="407.98,141.59 411.36,152.31 404.72,161.67 395.76,169.44 384.06,166.75 373.39,161.78 371.77,150.73 376.65,140.86 386.47,134.42 399.02,133.87" fill="#e6e6e6" stroke="none"/>
<polygon points="391.83,167.91 380.25,166.58 373.6,157.99 373.48,147.73 379.56,138.95 390.18,135.32 401.16,137.24 408.62,144.93 409.13,155.4 403.66,165.39" fill="none" stroke="#aeaeae" stroke-width="1.05"/>
<polygon points="389.35,167.49 379.92,163.24 374.14,155.48 376.04,146.17 382.34,138.6 392.52,136.81 403.17,138.6 408.45,147.38 406.43,156.99 400,164.91" fill="none" stroke="#aeaeae" stroke-width="1.05"/>
<polygon points="403.59,143.78 407.85,151.82 403.25,160.15 395.06,165.34 384.85,165.94 377.76,159.61 374.99,151.2 378.21,142.48 386.61,136.52 396.67,138.19" fill="none" stroke="#aeaeae" stroke-width="1.05"/>
<polygon points="396.18,138.8 403.2,143.79 405.07,151.58 401.92,158.97 394.54,162.9 386.3,163.01 379.93,158.49 376.12,151.42 380.26,144.15 387.39,139.88" fill="none" stroke="#aeaeae" stroke-width="1.05"/>
<polygon points="403.4,155.47 398.21,161.44 390.23,163.2 383.29,160.22 379.34,154.63 379.68,147.87 384.26,142.21 391.71,140.78 398.93,142.53 402.71,148.36" fill="none" stroke="#aeaeae" stroke-width="1.05"/>
<polygon points="401.82,147.01 401.69,153.38 397.83,158.38 392.01,162.02 385.56,159.83 381.21,155.56 381.28,149.79 384.01,144.46 390.07,141.78 396.62,142.89" fill="none" stroke="#aeaeae" stroke-width="1.05"/>
<polygon points="395.12,158.77 389.64,159.04 384.73,157.3 382.55,152.95 382.98,148.03 387.2,144.79 392.37,143.94 397.31,145.66 399.66,150.02 399.27,155.08" fill="none" stroke="#aeaeae" stroke-width="1.05"/>
<polygon points="383.22,151.59 384.91,147.5 388.79,144.88 393.64,144.65 397.03,147.54 398.25,151.42 397.41,155.71 393.01,157.51 388.42,158.18 384.71,155.63" fill="none" stroke="#aeaeae" stroke-width="1.05"/>
<polygon points="397.04,151.94 395.5,155.11 392.15,156.67 388.49,156.49 385.71,154.35 385.63,151.1 386.76,148.1 389.88,146.44 393.55,146.43 396.28,148.66" fill="none" stroke="#aeaeae" stroke-width="1.05"/>
<polygon points="392.29,147.94 394.5,149.12 395.17,151.38 394.36,153.62 392.17,154.78 389.83,154.73 387.92,153.6 387.05,151.61 387.96,149.58 389.71,147.87" fill="none" stroke="#aeaeae" stroke-width="1.05"/>
<polygon points="388.67,151.13 389.4,149.96 390.75,149.35 392.16,149.64 392.95,150.65 393.4,151.88 392.63,153.08 391.24,153.59 389.83,153.37 388.81,152.45" fill="none" stroke="#aeaeae" stroke-width="1.05"/>
<polygon points="456.06,149.4 446.6,158.41 434.38,159.46 423.98,152.59 419.58,139.98 425.6,128.17 436.53,121.31 449.47,124.17 456.45,135.82" fill="#2a2a2a" stroke="none"/>
<polygon points="424.88,154.47 419.65,142.12 423.45,128.98 434.57,121.91 447.37,123.67 455.02,134.19 455.65,147.02 448.29,157.42 436.06,161.24" fill="none" stroke="#2a2a2a" stroke-width="0.7"/>
<polygon points="433.55,156.49 427.79,151.14 424.55,144.07 424.82,136.08 428.68,128.9 435.82,125.24 443.71,125.93 449.75,131.15 453.38,138.39 452.68,146.63 448.3,153.43 441.21,156.39" fill="#383838" stroke="none"/>
<polygon points="449.97,131.68 454.2,138.83 453.21,147.46 447.44,153.18 440.79,157.06 432.9,156.7 426.26,151.75 423.84,143.64 425,135.57 429.57,129.16 436.29,124.71 443.94,126.88" fill="none" stroke="#525252" stroke-width="0.7"/>
<polygon points="428.38,135.2 432.35,130.1 438.43,127.67 444.31,130.4 449.43,134.42 450.8,141.12 449.68,147.91 444.97,152.71 438.76,153.92 432.39,153.13 428.14,147.94 427.04,141.47" fill="none" stroke="#525252" stroke-width="0.7"/>
<polygon points="447.96,141.53 446.57,146.47 443.01,149.88 438.4,150.91 433.81,149.7 430.54,146.01 428.88,141.07 431.02,136.39 433.97,132.29 438.82,130.94 443.27,133.11 447.2,136.28" fill="none" stroke="#525252" stroke-width="0.7"/>
<polygon points="437.01,134.2 440.43,134.74 443.3,136.55 444.91,139.69 445.23,143.4 443.16,146.43 440.1,148.01 436.74,147.96 433.95,146 432.53,142.85 432.58,139.39 433.92,136.03" fill="none" stroke="#525252" stroke-width="0.7"/>
<polygon points="437.73,145.38 436.12,144.16 435.11,142.45 434.94,140.41 435.94,138.67 437.5,137.53 439.47,137.21 441.25,138.24 442.3,140.08 442.31,142.2 441.48,144.14 439.76,145.3" fill="none" stroke="#525252" stroke-width="0.7"/>
<path d="M452 127 L461 127.5 L465 136 L463 143 L455 146" fill="none" stroke="#222" stroke-width="0.9"/>
<ellipse cx="437" cy="139" rx="3" ry="4" fill="#999"/>
<polygon points="465.51,184.09 470.72,177.33 476.1,170.7 484.22,168.9 492.53,169.17 499.74,173.68 504.22,180.98 505.9,189.2 506.94,198.06 501.41,204.79 495.63,210.74 487.76,212.84 479.78,211.79 472.12,208.49 466.39,201.78 465.62,192.85" fill="#c0c0c0" stroke="none"/>
<polygon points="474.52,172.9 481.8,169.01 489.98,169.36 497.19,173.08 502.78,179 505.93,186.71 507.52,195.46 503.5,203.32 497.38,208.94 490.36,213.81 481.76,214.06 474.46,209.49 469.26,202.97 466.1,195.28 466.3,186.92 468.79,178.89" fill="none" stroke="#adadad" stroke-width="0.8"/>
<polygon points="501.08,201.31 496.23,206.68 489.94,210.29 482.57,211.08 475.74,207.92 470.98,202.05 468.14,195.11 467.8,187.5 470.69,180.53 475.67,175.18 482.28,172.76 489.21,172.19 496.49,173.7 500.55,180.29 504.04,186.85 504.41,194.54" fill="none" stroke="#adadad" stroke-width="0.8"/>
<polygon points="496,178.55 499.81,183.52 501.42,189.7 500.96,196.15 498.02,201.9 493.58,206.78 487.3,208.47 480.9,207.71 476.21,203.18 472.55,198.28 469.79,192.36 470.23,185.57 473.94,180.07 478.71,175.82 484.81,175.08 490.85,175.13" fill="none" stroke="#adadad" stroke-width="0.8"/>
<polygon points="498.37,184.45 499.83,189.97 499.31,195.72 495.8,200.05 491.71,203.15 486.9,204.61 481.76,204.48 477.07,201.91 473.48,197.63 472.36,192.02 473.14,186.43 475.63,181.44 480.07,178.37 485.06,176.78 490.02,178.22 495.02,179.97" fill="none" stroke="#adadad" stroke-width="0.8"/>
<polygon points="487.24,202.92 482.94,202.19 479.39,199.76 476.92,196.31 475.55,192.23 475.48,187.76 477.39,183.68 481.01,181.37 484.87,180.13 489.02,179.96 492.81,181.97 495.35,185.54 496.41,189.78 496.49,194.23 493.98,197.79 491.09,200.83" fill="none" stroke="#adadad" stroke-width="0.8"/>
<polygon points="477.61,193.26 477.71,189.72 478.62,186.33 481.08,184 484.03,182.75 487.15,182.57 490.43,183.1 492.76,185.64 493.83,188.89 493.74,192.19 493.09,195.48 491.03,198.15 488.01,199.42 484.85,199.44 481.7,198.66 479.08,196.48" fill="none" stroke="#adadad" stroke-width="0.8"/>
<polygon points="486.79,196.69 484.64,196.77 482.63,195.82 481.01,194.17 480.54,191.86 480.29,189.48 481.31,187.3 483.07,185.8 485.19,185.2 487.46,184.83 489.33,186.24 491.06,187.78 491.47,190.14 491.36,192.43 490.7,194.71 488.86,196.08" fill="none" stroke="#adadad" stroke-width="0.8"/>
<polygon points="489,190 489.03,191.28 488.71,192.5 488.01,193.54 486.96,194.25 485.71,194.49 484.6,193.85 483.61,193.12 483.09,191.97 482.7,190.69 483.31,189.51 484.07,188.56 485.1,187.96 486.27,187.71 487.52,187.91 488.51,188.76" fill="none" stroke="#adadad" stroke-width="0.8"/>
<polygon points="422.97,177.64 435.09,181.23 441.39,193.36 440.4,206.9 433.09,218.14 420.79,219.35 411.69,210.48 407.33,197.68 412.57,185.1" fill="#2a2a2a" stroke="none"/>
<polygon points="413.02,213.28 408.3,200.88 411.43,188.06 420.47,179.81 432.11,180.74 441.48,189.8 441.16,203.91 435.6,216.45 423.67,218.69" fill="none" stroke="#2a2a2a" stroke-width="0.7"/>
<polygon points="416.02,212.48 411.54,205.35 411.25,196.62 414.55,189.21 419.84,183.62 427,182.8 434.07,185.39 437.58,193.07 438.65,201.37 436.45,209.73 429.91,213.64 422.99,215.27" fill="#383838" stroke="none"/>
<polygon points="430.42,183.18 435.5,189.31 438.17,196.84 437.36,204.95 433.99,212.69 426.87,215.01 419.59,214.79 413.48,209.63 411.37,201.24 412.35,192.91 415.98,185.25 423.05,182.35" fill="none" stroke="#525252" stroke-width="0.7"/>
<polygon points="424.12,212.76 418.71,209.92 415,204.7 414.27,198.04 415.35,191.18 419.85,186.3 425.87,185.36 431.72,187.33 434.73,193.46 436.02,199.99 434.37,206.59 430.17,211.76" fill="none" stroke="#525252" stroke-width="0.7"/>
<polygon points="433.28,196.04 433.29,201.31 431.33,206.05 427.52,208.93 422.9,209.57 419.21,206.3 416.35,202.09 416.26,196.56 418.4,191.65 422.4,188.77 427.03,188.78 430.88,191.58" fill="none" stroke="#525252" stroke-width="0.7"/>
<polygon points="422.45,205.48 419.83,203.29 419.18,199.61 419.63,196.03 421.39,192.89 424.48,191.96 427.46,192.73 429.76,195.04 431.14,198.36 430.45,202.01 428.7,205.26 425.56,206.53" fill="none" stroke="#525252" stroke-width="0.7"/>
<polygon points="428.4,198.68 428.02,200.7 426.9,202.27 425.28,203.14 423.46,202.83 422.13,201.34 421.61,199.32 421.87,197.23 422.99,195.54 424.72,194.79 426.54,195.15 427.99,196.56" fill="none" stroke="#525252" stroke-width="0.7"/>
<ellipse cx="424.6" cy="195" rx="2" ry="4.5" fill="#fff"/>
<ellipse cx="447.2" cy="197.6" rx="1.6" ry="10.6" fill="#fff" stroke="#222" stroke-width="0.9"/>
<rect x="438.6" y="190" width="3" height="14" fill="#999"/>
</g>
<polygon points="379.7,131.2 391.6,131.2 372,157.2 370.2,155.8" fill="#000"/>
<path d="M368.7 154L373.3 158.6M373.3 154L368.7 158.6" stroke="#000" stroke-width="1.5" fill="none"/>
<rect x="369.5" y="154.8" width="3" height="3" fill="#000"/>
<polygon points="473.4,213.5 485.3,213.5 491.2,189.5 489.3,188.5" fill="#000"/>
<path d="M488.1 186.3L492.7 190.9M492.7 186.3L488.1 190.9" stroke="#000" stroke-width="1.5" fill="none"/>
<rect x="488.9" y="187.1" width="3" height="3" fill="#000"/>
<path d="M377.7 155.6 C380 170.5 395 171 402 170.6 C418 170 428 160 432.5 150" fill="none" stroke="#000" stroke-width="1.7"/>
<polygon points="423,153 442.5,146.5 431.5,141.5" fill="#000"/>
<path d="M487 186 C485 176 472 169.6 458.5 169.8 C448 170 440 174 436 178.8" fill="none" stroke="#000" stroke-width="1.7"/>
<polygon points="426.5,179 444.8,178.6 437.6,183" fill="#000"/>
<text transform="translate(371.51,121.8) scale(1.28,1)" font-size="13.2" text-anchor="middle" font-family="Liberation Serif, serif" fill="#262626" stroke="#262626" stroke-width="0.3">S</text>
<text transform="translate(380.94,121.8) scale(1.23,1)" font-size="13.2" text-anchor="middle" font-family="Liberation Serif, serif" fill="#262626" stroke="#262626" stroke-width="0.3">1</text>
<text transform="translate(390.36,121.8) scale(1.23,1)" font-size="13.2" text-anchor="middle" font-family="Liberation Serif, serif" fill="#262626" stroke="#262626" stroke-width="0.3">5</text>
<text transform="translate(399.79,121.8) scale(1.23,1)" font-size="13.2" text-anchor="middle" font-family="Liberation Serif, serif" fill="#262626" stroke="#262626" stroke-width="0.3">9</text>
<text transform="translate(409.21,121.8) scale(0.99,1)" font-size="13.2" text-anchor="middle" font-family="Liberation Serif, serif" fill="#262626" stroke="#262626" stroke-width="0.3">N</text>
<text transform="translate(418.64,121.8) scale(1.54,1)" font-size="13.2" text-anchor="middle" font-family="Liberation Serif, serif" fill="#262626" stroke="#262626" stroke-width="0.3">-</text>
<text transform="translate(428.06,121.8) scale(0.99,1)" font-size="13.2" text-anchor="middle" font-family="Liberation Serif, serif" fill="#262626" stroke="#262626" stroke-width="0.3">H</text>
<text transform="translate(437.49,121.8) scale(0.99,1)" font-size="13.2" text-anchor="middle" font-family="Liberation Serif, serif" fill="#262626" stroke="#262626" stroke-width="0.3">N</text>
<text transform="translate(431.34,236.6) scale(1.18,1)" font-size="12.9" text-anchor="middle" font-family="Liberation Serif, serif" fill="#262626" stroke="#262626" stroke-width="0.3">T</text>
<text transform="translate(440.61,236.6) scale(1.24,1)" font-size="12.9" text-anchor="middle" font-family="Liberation Serif, serif" fill="#262626" stroke="#262626" stroke-width="0.3">1</text>
<text transform="translate(449.89,236.6) scale(1.24,1)" font-size="12.9" text-anchor="middle" font-family="Liberation Serif, serif" fill="#262626" stroke="#262626" stroke-width="0.3">4</text>
<text transform="translate(459.16,236.6) scale(1.24,1)" font-size="12.9" text-anchor="middle" font-family="Liberation Serif, serif" fill="#262626" stroke="#262626" stroke-width="0.3">6</text>
<text transform="translate(468.44,236.6) scale(1,1)" font-size="12.9" text-anchor="middle" font-family="Liberation Serif, serif" fill="#262626" stroke="#262626" stroke-width="0.3">N</text>
<text transform="translate(477.71,236.6) scale(1.55,1)" font-size="12.9" text-anchor="middle" font-family="Liberation Serif, serif" fill="#262626" stroke="#262626" stroke-width="0.3">-</text>
<text transform="translate(486.99,236.6) scale(1,1)" font-size="12.9" text-anchor="middle" font-family="Liberation Serif, serif" fill="#262626" stroke="#262626" stroke-width="0.3">H</text>
<text transform="translate(496.26,236.6) scale(1,1)" font-size="12.9" text-anchor="middle" font-family="Liberation Serif, serif" fill="#262626" stroke="#262626" stroke-width="0.3">N</text>
<!-- panel C -->
<text x="539.6" y="52.7" font-size="20.75" font-weight="bold" text-anchor="start" font-family="Liberation Serif, serif" fill="#000" >(C)</text>
<rect x="585.7" y="57.7" width="225.9" height="198.6" fill="#fff" stroke="#000" stroke-width="1.1"/>
<line x1="585.7" y1="220.5" x2="811.6" y2="220.5" stroke="#000" stroke-width="1" shape-rendering="crispEdges"/>
<line x1="585.7" y1="184.5" x2="811.6" y2="184.5" stroke="#000" stroke-width="1" shape-rendering="crispEdges"/>
<line x1="585.7" y1="148.5" x2="811.6" y2="148.5" stroke="#000" stroke-width="1" shape-rendering="crispEdges"/>
<line x1="585.7" y1="111.5" x2="811.6" y2="111.5" stroke="#000" stroke-width="1" shape-rendering="crispEdges"/>
<line x1="585.7" y1="75.5" x2="811.6" y2="75.5" stroke="#000" stroke-width="1" shape-rendering="crispEdges"/>
<line x1="642.18" y1="256.3" x2="642.18" y2="252.7" stroke="#000" stroke-width="1.05" />
<line x1="698.65" y1="256.3" x2="698.65" y2="252.7" stroke="#000" stroke-width="1.05" />
<line x1="755.12" y1="256.3" x2="755.12" y2="252.7" stroke="#000" stroke-width="1.05" />
<text x="581.2" y="261" font-size="13.7" font-weight="bold" text-anchor="end" font-family="Liberation Serif, serif" fill="#000" >0</text>
<text x="581.2" y="224.9" font-size="13.7" font-weight="bold" text-anchor="end" font-family="Liberation Serif, serif" fill="#000" >0.2</text>
<text x="581.2" y="188.8" font-size="13.7" font-weight="bold" text-anchor="end" font-family="Liberation Serif, serif" fill="#000" >0.4</text>
<text x="581.2" y="152.7" font-size="13.7" font-weight="bold" text-anchor="end" font-family="Liberation Serif, serif" fill="#000" >0.6</text>
<text x="581.2" y="116.6" font-size="13.7" font-weight="bold" text-anchor="end" font-family="Liberation Serif, serif" fill="#000" >0.8</text>
<text x="581.2" y="80.5" font-size="13.7" font-weight="bold" text-anchor="end" font-family="Liberation Serif, serif" fill="#000" >1</text>
<text x="585.7" y="274.6" font-size="13.7" font-weight="bold" text-anchor="middle" font-family="Liberation Serif, serif" fill="#000" >0</text>
<text x="642.18" y="274.6" font-size="13.7" font-weight="bold" text-anchor="middle" font-family="Liberation Serif, serif" fill="#000" >0.5</text>
<text x="698.65" y="274.6" font-size="13.7" font-weight="bold" text-anchor="middle" font-family="Liberation Serif, serif" fill="#000" >1</text>
<text x="755.12" y="274.6" font-size="13.7" font-weight="bold" text-anchor="middle" font-family="Liberation Serif, serif" fill="#000" >1.5</text>
<text x="811.6" y="274.6" font-size="13.7" font-weight="bold" text-anchor="middle" font-family="Liberation Serif, serif" fill="#000" >2</text>
<text x="618.4" y="291.8" font-size="16.6" font-weight="bold" text-anchor="start" font-family="Liberation Serif, serif" fill="#000" >[RNA] / [RBD1-RBD2]</text>
<text transform="translate(548.7,240.6) rotate(-90)" font-size="16.5" font-weight="bold" font-family="Liberation Serif, serif">normalized shift change</text>
<polyline points="585.7,256.3 608.29,162.44 642.18,104.68 698.65,80.31 755.12,80.13 811.6,75.8" fill="none" stroke="#111" stroke-width="0.85"/>
<polyline points="585.7,256.3 608.29,238.25 642.18,214.79 698.65,83.92 755.12,78.51 811.04,75.08" fill="none" stroke="#111" stroke-width="0.85"/>
<polygon points="582.8,256.3 585.7,253.2 588.6,256.3 585.7,259.4" fill="#000"/>
<polygon points="605.39,162.44 608.29,159.34 611.19,162.44 608.29,165.54" fill="#000"/>
<polygon points="639.28,104.68 642.18,101.58 645.08,104.68 642.18,107.78" fill="#000"/>
<polygon points="695.75,80.31 698.65,77.21 701.55,80.31 698.65,83.41" fill="#000"/>
<polygon points="752.23,80.13 755.12,77.03 758.02,80.13 755.12,83.23" fill="#000"/>
<polygon points="808.7,75.8 811.6,72.7 814.5,75.8 811.6,78.9" fill="#000"/>
<rect x="582.9" y="253.5" width="5.6" height="5.6" fill="#000"/>
<rect x="605.49" y="235.45" width="5.6" height="5.6" fill="#000"/>
<rect x="639.38" y="211.99" width="5.6" height="5.6" fill="#000"/>
<rect x="695.85" y="81.12" width="5.6" height="5.6" fill="#000"/>
<rect x="752.33" y="75.71" width="5.6" height="5.6" fill="#000"/>
<rect x="808.24" y="72.28" width="5.6" height="5.6" fill="#000"/>
<rect x="719.1" y="28.4" width="38.8" height="5.4" fill="#000"/>
<polygon points="730.6,31.1 738.3,25.4 746,31.1 738.3,36.9" fill="#000"/>
<rect x="719.1" y="45.3" width="38.8" height="5.4" fill="#000"/>
<rect x="733.1" y="41.3" width="9.6" height="13.4" fill="#000"/>
<text x="768.1" y="35" font-size="14.1" font-weight="bold" text-anchor="start" font-family="Liberation Serif, serif" fill="#000" >RBD1</text>
<text x="768.1" y="52.3" font-size="14.1" font-weight="bold" text-anchor="start" font-family="Liberation Serif, serif" fill="#000" >RBD2</text>
<!-- panel D -->
<text x="53.2" y="295.1" font-size="20.75" font-weight="bold" text-anchor="start" font-family="Liberation Serif, serif" fill="#000" >(D)</text>
<text x="123.3" y="313.3" font-size="14.5" font-weight="bold" text-anchor="start" font-family="Liberation Serif, serif" fill="#000" ><tspan font-style="italic">numb</tspan>&#160;&#160;15 mer</text>
<rect x="100.1" y="327.1" width="124" height="9.6" fill="#6b6b6b"/>
<ellipse cx="130.8" cy="332.4" rx="11.3" ry="9.5" fill="#6b6b6b"/>
<ellipse cx="194.4" cy="332.4" rx="11.3" ry="9.5" fill="#6b6b6b"/>
<line x1="104.4" y1="361.2" x2="81.2" y2="374.4" stroke="#000" stroke-width="4.6" />
<line x1="179.2" y1="361.2" x2="154.3" y2="387.2" stroke="#000" stroke-width="4.6" />
<ellipse cx="0" cy="0" rx="24" ry="13" transform="translate(125.6,351.4) rotate(-20)" fill="#000" />
<ellipse cx="0" cy="0" rx="24" ry="13" transform="translate(197.6,351.4) rotate(-20)" fill="#000" />
<ellipse cx="0" cy="0" rx="24" ry="12.6" transform="translate(61.5,387.3) rotate(-28)" fill="#fff" stroke="#000" stroke-width="1.3"/>
<ellipse cx="0" cy="0" rx="24.4" ry="13" transform="translate(139.7,404) rotate(-46)" fill="#fff" stroke="#000" stroke-width="1.3"/>
<text x="63.3" y="353.9" font-size="14.2" font-weight="bold" text-anchor="start" font-family="Liberation Serif, serif" fill="#000" >RBD1</text>
<text x="29.6" y="420.7" font-size="14.2" font-weight="bold" text-anchor="start" font-family="Liberation Serif, serif" fill="#000" >RBD2</text>
<rect x="47.3" y="439" width="148.2" height="51.4" fill="#fff" stroke="#000" stroke-width="1.9"/>
<line x1="53.2" y1="464.9" x2="151" y2="464.9" stroke="#000" stroke-width="1.7" />
<text x="102.5" y="461.6" font-size="14.1" font-weight="normal" text-anchor="middle" font-family="Liberation Serif, serif" fill="#000" >[RNA]</text>
<text x="107.5" y="480.5" font-size="14.1" font-weight="normal" text-anchor="middle" font-family="Liberation Serif, serif" fill="#000" textLength="88" lengthAdjust="spacingAndGlyphs">[RBD1-RBD2]</text>
<text x="159" y="469.2" font-size="14.1" font-weight="normal" text-anchor="start" font-family="Liberation Serif, serif" fill="#000" >= 0.5</text>
<path d="M240.9 375.6H248.3M244.6 371.9V379.3" stroke="#000" stroke-width="1.3" fill="none"/>
<rect x="254.1" y="372" width="88.7" height="8.8" fill="#6b6b6b"/>
<ellipse cx="274.8" cy="377" rx="8.4" ry="8" fill="#6b6b6b"/>
<ellipse cx="320.9" cy="377" rx="8.4" ry="8" fill="#6b6b6b"/>
<polygon points="220.8,398 344.9,398 344.9,389.2 389.5,407.3 344.9,425.7 344.9,416.4 220.8,416.4" fill="#000"/>
<rect x="424.3" y="329.2" width="125.7" height="11.8" fill="#6b6b6b"/>
<ellipse cx="454.3" cy="334" rx="11.6" ry="11.3" fill="#6b6b6b"/>
<ellipse cx="520.1" cy="334" rx="11.6" ry="11.3" fill="#6b6b6b"/>
<line x1="471" y1="372.9" x2="493" y2="360.2" stroke="#000" stroke-width="4.6" />
<ellipse cx="0" cy="0" rx="24.2" ry="12.4" transform="translate(513.8,351.9) rotate(-15)" fill="#000" />
<ellipse cx="0" cy="0" rx="22.8" ry="13" transform="translate(449.2,377.5) rotate(-8)" fill="#fff" stroke="#000" stroke-width="1.3"/>
<path d="M418.5 380 C397 380.5 393.5 353 412 349.5" fill="none" stroke="#000" stroke-width="1.6"/>
<polygon points="410.2,343.7 417.4,348.6 410.8,355.8" fill="#000"/>
<rect x="424.3" y="416.5" width="125.7" height="11.8" fill="#6b6b6b"/>
<ellipse cx="454.3" cy="421.3" rx="11.6" ry="11.3" fill="#6b6b6b"/>
<ellipse cx="520.1" cy="421.3" rx="11.6" ry="11.3" fill="#6b6b6b"/>
<line x1="471" y1="460.2" x2="493" y2="447.5" stroke="#000" stroke-width="4.6" />
<ellipse cx="0" cy="0" rx="24.2" ry="12.4" transform="translate(513.8,439.2) rotate(-15)" fill="#000" />
<ellipse cx="0" cy="0" rx="22.8" ry="13" transform="translate(449.2,464.8) rotate(-8)" fill="#fff" stroke="#000" stroke-width="1.3"/>
<path d="M418.5 466.6 C397 467.1 393.5 439.6 412 436.1" fill="none" stroke="#000" stroke-width="1.6"/>
<polygon points="410.2,430.3 417.4,435.2 410.8,442.4" fill="#000"/>
<polygon points="591.2,386.5 627.1,386.5 627.1,376.8 642.3,396.3 627.1,416 627.1,405.7 591.2,405.7" fill="#000"/>
<rect x="677.2" y="327.9" width="126" height="11.7" fill="#6b6b6b"/>
<ellipse cx="706.9" cy="333.3" rx="11.4" ry="11.2" fill="#6b6b6b"/>
<ellipse cx="772.8" cy="333.3" rx="11.4" ry="11.2" fill="#6b6b6b"/>
<path d="M725.8 361 C731 369.2 749 369.2 754.8 361.6" fill="none" stroke="#000" stroke-width="2.8"/>
<ellipse cx="0" cy="0" rx="24.6" ry="12.2" transform="translate(709.7,349.2) rotate(20)" fill="#fff" stroke="#000" stroke-width="1.5"/>
<ellipse cx="0" cy="0" rx="24.4" ry="12" transform="translate(771.3,348.3) rotate(-20)" fill="#000" />
<rect x="678" y="393.7" width="126" height="12.4" fill="#6b6b6b"/>
<ellipse cx="707.7" cy="399.1" rx="11.4" ry="11.2" fill="#6b6b6b"/>
<ellipse cx="773.6" cy="399.1" rx="11.4" ry="11.2" fill="#6b6b6b"/>
<path d="M726.6 426.8 C731.8 435 749.8 435 755.6 427.4" fill="none" stroke="#000" stroke-width="2.8"/>
<ellipse cx="0" cy="0" rx="24.6" ry="12.2" transform="translate(710.5,415) rotate(20)" fill="#fff" stroke="#000" stroke-width="1.5"/>
<ellipse cx="0" cy="0" rx="24.4" ry="12" transform="translate(772.1,414.1) rotate(-20)" fill="#000" />
<rect x="664.1" y="440.6" width="156.9" height="50.8" fill="#fff" stroke="#000" stroke-width="1.9"/>
<line x1="671.3" y1="468" x2="767.9" y2="468" stroke="#000" stroke-width="1.7" />
<text x="720.1" y="463.6" font-size="14.1" font-weight="normal" text-anchor="middle" font-family="Liberation Serif, serif" fill="#000" >[RNA]</text>
<text x="724.5" y="481.4" font-size="14.1" font-weight="normal" text-anchor="middle" font-family="Liberation Serif, serif" fill="#000" textLength="88" lengthAdjust="spacingAndGlyphs">[RBD1-RBD2]</text>
<text x="778.3" y="473.3" font-size="14.1" font-weight="normal" text-anchor="start" font-family="Liberation Serif, serif" fill="#000" >= 1.0</text>
</svg></body></html>
